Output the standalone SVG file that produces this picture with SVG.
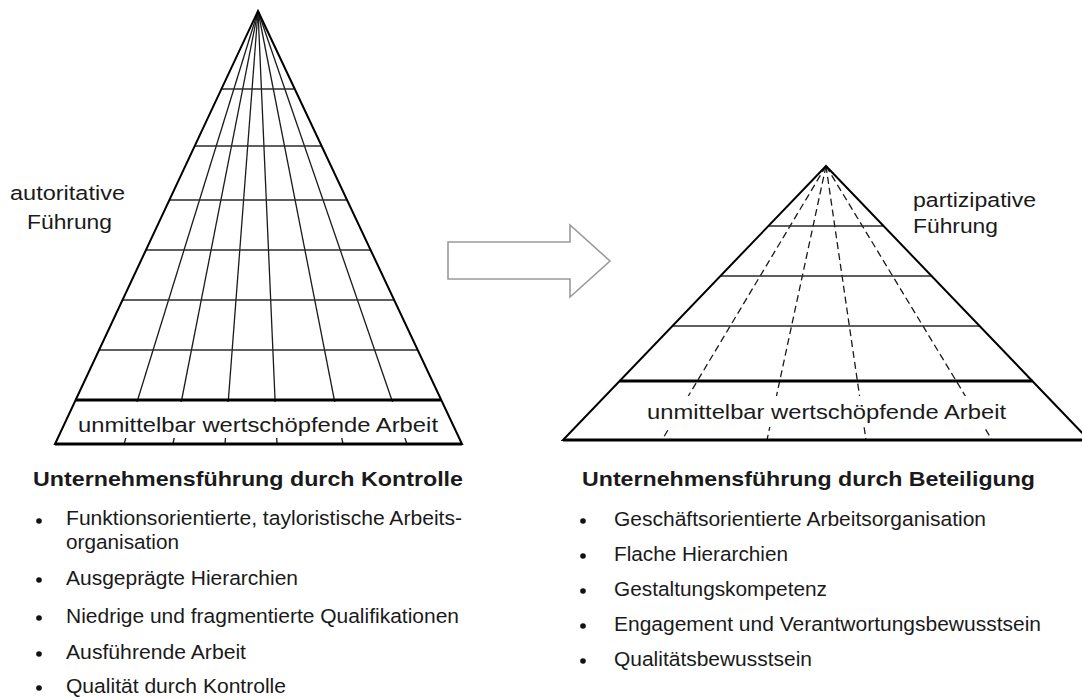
<svg xmlns="http://www.w3.org/2000/svg" width="1082" height="699" viewBox="0 0 1082 699">
<style>
.t{font-family:"Liberation Sans",Arial,sans-serif;fill:#1a1a1a;font-size:20.5px}
.h{font-family:"Liberation Sans",Arial,sans-serif;fill:#1a1a1a;font-size:20.5px;font-weight:bold}
.edge{stroke:#000;stroke-width:2;fill:none;stroke-linejoin:miter}
.thick{stroke:#000;stroke-width:3}
.grid{stroke:#2a2a2a;stroke-width:1.3}
.ray{stroke:#1a1a1a;stroke-width:1.3}
.dash{stroke:#1a1a1a;stroke-width:1.3;stroke-dasharray:7 4}
.bul{fill:#111}
</style>
<rect width="1082" height="699" fill="#fff"/>

<g id="pyramid-left">
  <g id="rays-left">
    <line class="ray" x1="258" y1="11" x2="124" y2="444"/>
    <line class="ray" x1="258" y1="11" x2="173" y2="444"/>
    <line class="ray" x1="258" y1="11" x2="225" y2="444"/>
    <line class="ray" x1="258" y1="11" x2="277" y2="444"/>
    <line class="ray" x1="258" y1="11" x2="343" y2="444"/>
    <line class="ray" x1="258" y1="11" x2="407" y2="444"/>
  </g>
  <rect x="60" y="402" width="400" height="36" fill="#fff"/>
  <line class="grid" x1="221.4" y1="89" x2="294.7" y2="89"/>
  <line class="grid" x1="194.7" y1="146" x2="321.6" y2="146"/>
  <line class="grid" x1="169.4" y1="200" x2="347" y2="200"/>
  <line class="grid" x1="146" y1="250" x2="370.6" y2="250"/>
  <line class="grid" x1="122.5" y1="300" x2="394.2" y2="300"/>
  <line class="grid" x1="99.1" y1="350" x2="417.7" y2="350"/>
  <line class="thick" x1="75.6" y1="400" x2="441.3" y2="400"/>
  <polygon class="edge" points="258,11 462,444 55,444"/>
  <line class="thick" x1="55" y1="444" x2="462" y2="444"/>
  <text class="t" x="78" y="432" textLength="360" lengthAdjust="spacingAndGlyphs">unmittelbar wertschöpfende Arbeit</text>
</g>

<g id="label-left">
  <text class="t" x="10" y="200" textLength="115" lengthAdjust="spacingAndGlyphs">autoritative</text>
  <text class="t" x="27" y="229" textLength="85" lengthAdjust="spacingAndGlyphs">Führung</text>
</g>

<g id="connectors">
  <polygon points="448,242 570,242 570,225 610,261 570,297 570,279 448,279" fill="#fff" stroke="#9a9a9a" stroke-width="1.6"/>
</g>

<g id="pyramid-right">
  <g id="rays-right">
    <line class="dash" x1="826" y1="166" x2="662" y2="440"/>
    <line class="dash" x1="826" y1="166" x2="767" y2="440"/>
    <line class="dash" x1="826" y1="166" x2="866" y2="440"/>
    <line class="dash" x1="826" y1="166" x2="992" y2="440"/>
  </g>
  <rect x="643" y="396" width="370" height="31" fill="#fff"/>
  <line class="grid" x1="768.4" y1="226" x2="883.6" y2="226"/>
  <line class="grid" x1="720.4" y1="276" x2="931.6" y2="276"/>
  <line class="grid" x1="672.4" y1="326" x2="979.6" y2="326"/>
  <line class="thick" x1="619.6" y1="381" x2="1032.4" y2="381"/>
  <polygon class="edge" points="826,166 1089,440 563,440"/>
  <line class="thick" x1="563" y1="440" x2="1089" y2="440"/>
  <text class="t" x="647" y="419" textLength="359" lengthAdjust="spacingAndGlyphs">unmittelbar wertschöpfende Arbeit</text>
</g>

<g id="label-right">
  <text class="t" x="913" y="207" textLength="123" lengthAdjust="spacingAndGlyphs">partizipative</text>
  <text class="t" x="913" y="233" textLength="85" lengthAdjust="spacingAndGlyphs">Führung</text>
</g>

<g id="list-left">
  <text class="h" x="33" y="486" textLength="430" lengthAdjust="spacingAndGlyphs">Unternehmensführung durch Kontrolle</text>
  <circle class="bul" cx="39" cy="521" r="2.8"/>
  <text class="t" x="66" y="525" textLength="396" lengthAdjust="spacingAndGlyphs">Funktionsorientierte, tayloristische Arbeits-</text>
  <text class="t" x="66" y="549" textLength="113" lengthAdjust="spacingAndGlyphs">organisation</text>
  <circle class="bul" cx="39" cy="580" r="2.8"/>
  <text class="t" x="66" y="585" textLength="232" lengthAdjust="spacingAndGlyphs">Ausgeprägte Hierarchien</text>
  <circle class="bul" cx="39" cy="618" r="2.8"/>
  <text class="t" x="66" y="623" textLength="393" lengthAdjust="spacingAndGlyphs">Niedrige und fragmentierte Qualifikationen</text>
  <circle class="bul" cx="39" cy="654" r="2.8"/>
  <text class="t" x="66" y="659" textLength="180" lengthAdjust="spacingAndGlyphs">Ausführende Arbeit</text>
  <circle class="bul" cx="39" cy="688" r="2.8"/>
  <text class="t" x="66" y="693" textLength="220" lengthAdjust="spacingAndGlyphs">Qualität durch Kontrolle</text>
</g>

<g id="list-right">
  <text class="h" x="582" y="486" textLength="453" lengthAdjust="spacingAndGlyphs">Unternehmensführung durch Beteiligung</text>
  <circle class="bul" cx="583" cy="521" r="2.8"/>
  <text class="t" x="614" y="526" textLength="372" lengthAdjust="spacingAndGlyphs">Geschäftsorientierte Arbeitsorganisation</text>
  <circle class="bul" cx="583" cy="556" r="2.8"/>
  <text class="t" x="614" y="561" textLength="174" lengthAdjust="spacingAndGlyphs">Flache Hierarchien</text>
  <circle class="bul" cx="583" cy="591" r="2.8"/>
  <text class="t" x="614" y="596" textLength="213" lengthAdjust="spacingAndGlyphs">Gestaltungskompetenz</text>
  <circle class="bul" cx="583" cy="626" r="2.8"/>
  <text class="t" x="614" y="631" textLength="427" lengthAdjust="spacingAndGlyphs">Engagement und Verantwortungsbewusstsein</text>
  <circle class="bul" cx="583" cy="661" r="2.8"/>
  <text class="t" x="614" y="666" textLength="198" lengthAdjust="spacingAndGlyphs">Qualitätsbewusstsein</text>
</g>
</svg>
